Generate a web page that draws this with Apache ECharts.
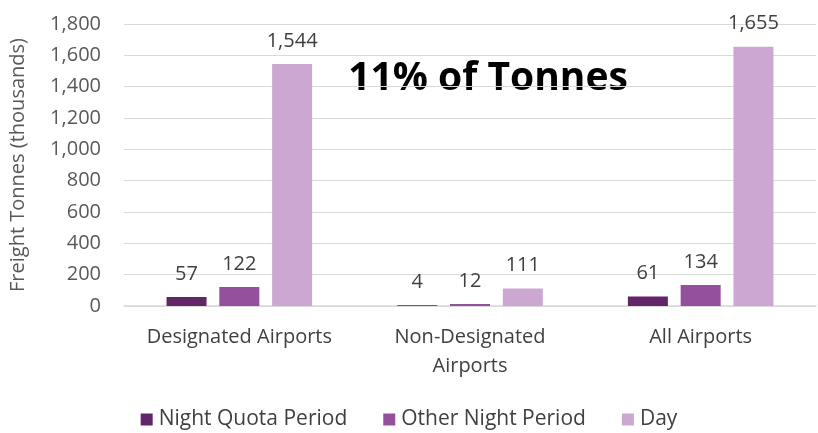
<!DOCTYPE html>
<html><head><meta charset="utf-8">
<script src="https://cdn.jsdelivr.net/npm/echarts@6/dist/echarts.min.js"></script>
<style>html,body{margin:0;padding:0;background:#fff}#c{width:818px;height:433px}</style>
</head><body><div id="c"></div>
<script>
const categories = ['Designated Airports', 'Non-Designated\nAirports', 'All Airports'];
const nightQuota = [57, 4, 61];
const otherNight = [122, 12, 134];
const day = [1544, 111, 1655];
const seriesNames = ['Night Quota Period', 'Other Night Period', 'Day'];
const colors = ['#622568', '#944f9d', '#cba7d2'];
const yTicks = {min: 0, max: 1800, interval: 200};
const titleText = '11% of Tonnes';

const font = 'Open Sans';
const chart = echarts.init(document.getElementById('c'));
const mk = (name, data, color) => ({
  name, type: 'bar', data, barWidth: 40, barGap: '32%',
  itemStyle: {color},
  label: {show: true, position: 'top', distance: 13, color: '#404040', fontSize: 20, fontFamily: font,
    formatter: p => p.value.toLocaleString('en-US')}
});
chart.setOption({
  animation: false,
  textStyle: {fontFamily: font},
  grid: {left: 116, right: 2, top: 24, bottom: 127},
  legend: {
    bottom: -2, left: 'center', itemWidth: 12, itemHeight: 12, itemGap: 36,
    icon: 'rect',
    textStyle: {fontSize: 21, color: '#404040', fontFamily: font, padding: [0, 0, 0, 1]},
    data: seriesNames
  },
  xAxis: {
    type: 'category', data: categories,
    axisTick: {show: false},
    axisLine: {lineStyle: {color: '#d9d9d9', width: 1.5}},
    axisLabel: {interval: 0, fontSize: 20, color: '#404040', margin: 17, lineHeight: 29, fontFamily: font}
  },
  yAxis: {
    type: 'value', min: yTicks.min, max: yTicks.max, interval: yTicks.interval,
    name: 'Freight Tonnes (thousands)', nameLocation: 'middle', nameGap: 96,
    nameTextStyle: {fontSize: 20, color: '#595959', fontFamily: font},
    axisLabel: {fontSize: 20, color: '#595959', margin: 23, fontFamily: font,
      formatter: v => v.toLocaleString('en-US')},
    splitLine: {lineStyle: {color: '#d9d9d9', width: 1}},
    axisLine: {show: false}, axisTick: {show: false}
  },
  graphic: [{type: 'text', x: 488, y: 59, style: {text: titleText, textAlign: 'center',
    font: 'bold 39px "Open Sans"', fill: '#000'}}],
  series: [mk(seriesNames[0], nightQuota, colors[0]), mk(seriesNames[1], otherNight, colors[1]), mk(seriesNames[2], day, colors[2])]
});
</script></body></html>
